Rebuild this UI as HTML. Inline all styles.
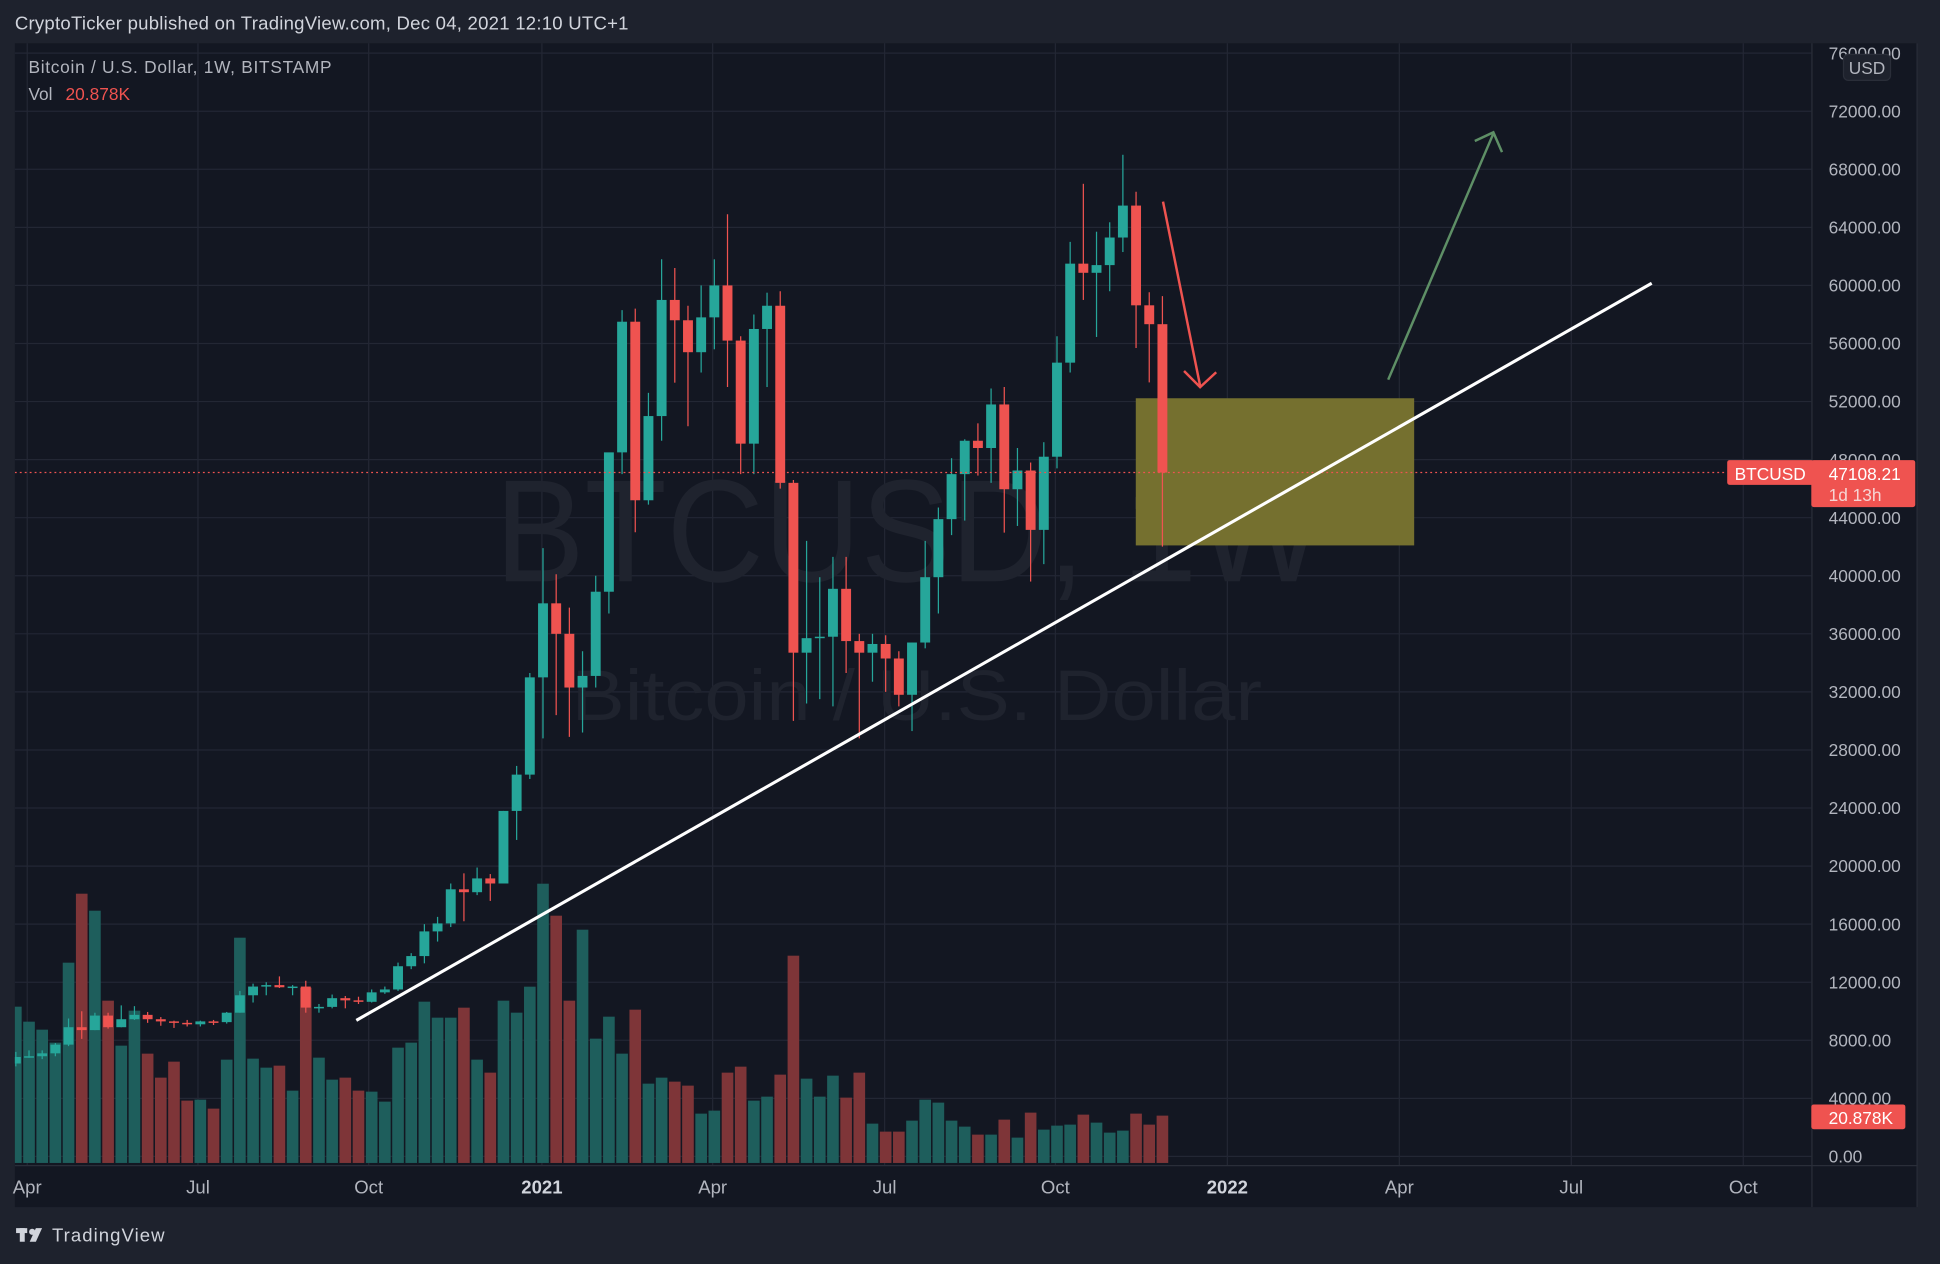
<!DOCTYPE html>
<html><head><meta charset="utf-8"><style>
html,body{margin:0;padding:0;background:#1e222d;width:1940px;height:1264px;overflow:hidden}
svg{display:block}
text{font-family:"Liberation Sans",sans-serif}
</style></head><body>
<svg id="s" xmlns="http://www.w3.org/2000/svg" width="1940" height="1264" viewBox="0 0 1568 1022" preserveAspectRatio="none">
<rect x="0" y="0" width="1568" height="1022" fill="#1e222d"/>
<rect x="12" y="35" width="1538" height="941" fill="#131722"/>
<defs><clipPath id="cp"><rect x="12" y="35" width="1452" height="907"/></clipPath></defs>
<g id="grid" stroke="#232734" stroke-width="1"></g>
<text x="400" y="470" font-size="118" fill="#1f232e" textLength="670" lengthAdjust="spacingAndGlyphs">BTCUSD, 1W</text>
<text x="462" y="582" font-size="58" fill="#1f232e" textLength="558" lengthAdjust="spacingAndGlyphs">Bitcoin / U.S. Dollar</text>
<rect x="918" y="322" width="225" height="119" fill="#75702f"/>
<g id="vol" clip-path="url(#cp)"></g>
<g id="cdl" clip-path="url(#cp)"></g>
<g clip-path="url(#cp)">
<line x1="12" y1="382" x2="1396" y2="382" stroke="#ef5350" stroke-width="1" stroke-dasharray="1.5,2.5"/>
<line x1="288" y1="825" x2="1335" y2="229" stroke="#ffffff" stroke-width="2.5"/>
<polyline points="940,163 970,312" fill="none" stroke="#ef5350" stroke-width="2"/>
<polyline points="957,300 970,313 983,301" fill="none" stroke="#ef5350" stroke-width="2"/>
<polyline points="1122,307 1207,108" fill="none" stroke="#5e8f66" stroke-width="2"/>
<polyline points="1192,114 1207,107 1214,123" fill="none" stroke="#5e8f66" stroke-width="2"/>
</g>
<line x1="1464.5" y1="35" x2="1464.5" y2="976" stroke="#2a2e39"/>
<line x1="12" y1="942.5" x2="1550" y2="942.5" stroke="#2a2e39"/>
<line x1="1549.5" y1="35" x2="1549.5" y2="976" stroke="#2a2e39"/>
<g id="plab" font-size="14" fill="#b2b5be"></g>
<rect x="1490" y="44" width="38" height="21" rx="4" fill="#1e222d" stroke="#2a2e39"/>
<text x="1509" y="60" font-size="14" fill="#b2b5be" text-anchor="middle">USD</text>
<rect x="1396" y="372" width="70" height="20" rx="2" fill="#ef5350"/>
<text x="1402" y="388" font-size="14" fill="#fff">BTCUSD</text>
<rect x="1464" y="372" width="84" height="38" rx="2" fill="#ef5350"/>
<text x="1478" y="388" font-size="14" fill="#fff">47108.21</text>
<text x="1478" y="405" font-size="14" fill="#f6d5d4">1d 13h</text>
<rect x="1464" y="893" width="76" height="20" rx="2" fill="#ef5350"/>
<text x="1478" y="909" font-size="14" fill="#fff">20.878K</text>
<g font-size="15" fill="#b2b5be" text-anchor="middle">
<text x="22" y="965">Apr</text><text x="160" y="965">Jul</text><text x="298" y="965">Oct</text>
<text x="438" y="965" font-weight="bold" fill="#d1d4dc">2021</text>
<text x="576" y="965">Apr</text><text x="715" y="965">Jul</text><text x="853" y="965">Oct</text>
<text x="992" y="965" font-weight="bold" fill="#d1d4dc">2022</text>
<text x="1131" y="965">Apr</text><text x="1270" y="965">Jul</text><text x="1409" y="965">Oct</text>
</g>
<text x="12" y="24" font-size="15" fill="#d1d4dc" textLength="496" lengthAdjust="spacing">CryptoTicker published on TradingView.com, Dec 04, 2021 12:10 UTC+1</text>
<text x="23" y="59" font-size="14" fill="#b2b5be" textLength="245" lengthAdjust="spacing">Bitcoin / U.S. Dollar, 1W, BITSTAMP</text>
<text x="23" y="81" font-size="14" fill="#b2b5be">Vol</text>
<text x="53" y="81" font-size="14" fill="#ef5350">20.878K</text>
<g fill="#d1d4dc"><rect x="13" y="993" width="9" height="4"/><rect x="16" y="993" width="4" height="11"/><circle cx="26" cy="996" r="2.5"/><polygon points="29,993 34,993 29,1004 24,1004"/></g>
<text x="42" y="1004" font-size="15" fill="#d1d4dc" textLength="91" lengthAdjust="spacing">TradingView</text>
</svg>
<script>
var NS="http://www.w3.org/2000/svg";
function el(p,t,a){var e=document.createElementNS(NS,t);for(var k in a)e.setAttribute(k,a[k]);p.appendChild(e);return e;}
function Y(p){return 935-p*0.011737;}
var g=document.getElementById('grid');
for(var p=0;p<=76000;p+=4000){var y=Y(p);el(g,'line',{x1:12,x2:1464,y1:y,y2:y});
 var t=el(document.getElementById('plab'),'text',{x:1478,y:y+5});t.textContent=p.toFixed(2);}
[22,160,298,438,576,715,853,992,1131,1270,1409].forEach(function(x){el(g,'line',{x1:x,x2:x,y1:35,y2:942});});
var d=[[6400,7200,6200,6850],[6850,7300,6800,6900],[6900,7300,6700,7100],[7100,7800,6900,7700],[7700,9500,7600,8900],[8900,10000,8100,8700],[8700,9900,8700,9700],[9700,9900,8800,8900],[8900,10400,8900,9450],[9450,10350,9400,9750],
[9750,9950,9200,9450],[9450,9600,9000,9300],[9300,9350,8850,9200],[9200,9400,8950,9100],[9100,9350,8950,9300],[9300,9400,9050,9250],[9250,9950,9150,9900],[9900,11400,9900,11100],[11100,11900,10600,11700],[11700,12000,11100,11800],
[11800,12400,11600,11650],[11650,11800,11100,11700],[11700,12100,9900,10250],[10250,10500,9900,10300],[10300,11150,10200,10900],[10900,11050,10200,10750],[10750,11000,10500,10650],[10650,11500,10600,11300],[11300,11700,11200,11500],[11500,13350,11400,13100],
[13100,14000,12900,13800],[13800,16000,13300,15500],[15500,16500,14800,16050],[16050,18800,15800,18400],[18400,19500,16200,18200],[18200,19900,18000,19150],[19150,19450,17600,18800],[18800,23800,18800,23800],[23800,26900,21800,26300],[26300,33300,26000,33000],
[33000,41900,28800,38100],[38100,40100,30400,36000],[36000,37800,28900,32300],[32300,34800,29200,33100],[33100,40000,32300,38900],[38900,48000,37400,48500],[48500,58300,47000,57500],[57500,58400,43000,45200],[45200,52600,44900,51000],[51000,61800,49300,59000],
[59000,61200,53300,57600],[57600,58600,50300,55400],[55400,60000,54000,57800],[57800,61800,55600,60000],[60000,64900,53000,56200],[56200,56500,47000,49100],[49100,58000,47000,57000],[57000,59500,53000,58600],[58600,59600,46000,46400],[46400,46600,30000,34700],
[34700,42400,31200,35700],[35700,39900,31500,35800],[35800,41300,31000,39100],[39100,41300,33300,35500],[35500,36000,28800,34700],[34700,36000,32700,35300],[35300,35900,32000,34300],[34300,34800,31000,31800],[31800,35400,29300,35400],[35400,42400,35000,39900],
[39900,44700,37400,43900],[43900,48100,42800,47000],[47000,49400,43800,49300],[49300,50500,46900,48800],[48800,52900,46400,51800],[51800,53000,42970,45960],[45960,48800,43430,47250],[47250,47800,39600,43160],[43160,49200,40800,48200],[48200,56500,47400,54680],
[54680,63000,54000,61500],[61500,67000,59000,60870],[60870,63700,56450,61400],[61400,64350,59600,63300],[63300,69000,62300,65500],[65500,66450,55690,58630],[58630,59530,53320,57330],[57330,59260,42010,47108]];
var v=[441,486,510,549,309,102,153,423,558,453,582,654,606,723,720,747,600,234,597,624,618,693,384,594,660,654,693,696,726,564,549,426,474,474,444,600,639,423,459,381,72,168,423,210,537,471,582,
450,672,654,666,678,762,753,639,621,723,711,645,288,657,711,648,714,639,792,816,816,783,720,729,783,801,825,825,780,834,759,810,798,795,765,789,819,813,762,795,768];
var vg=document.getElementById('vol'),cg=document.getElementById('cdl');
for(var i=0;i<d.length;i++){
 var x=12.8+10.652*i,c=d[i],up=c[3]>=c[0];
 var vt=(860+v[i]/3)/1.2372;
 el(vg,'rect',{x:x-4.7,y:vt,width:9.4,height:940.3-vt,fill:up?'#1e5e5c':'#7e3538'});
 var col=up?'#26a69a':'#ef5350';
 el(cg,'line',{x1:x,x2:x,y1:Y(c[1]),y2:Y(c[2]),stroke:col,'stroke-width':1});
 var t=Y(Math.max(c[0],c[3])),b=Y(Math.min(c[0],c[3]));
 el(cg,'rect',{x:x-4,y:t,width:8,height:Math.max(1.2,b-t),fill:col});
}
</script>
</body></html>
